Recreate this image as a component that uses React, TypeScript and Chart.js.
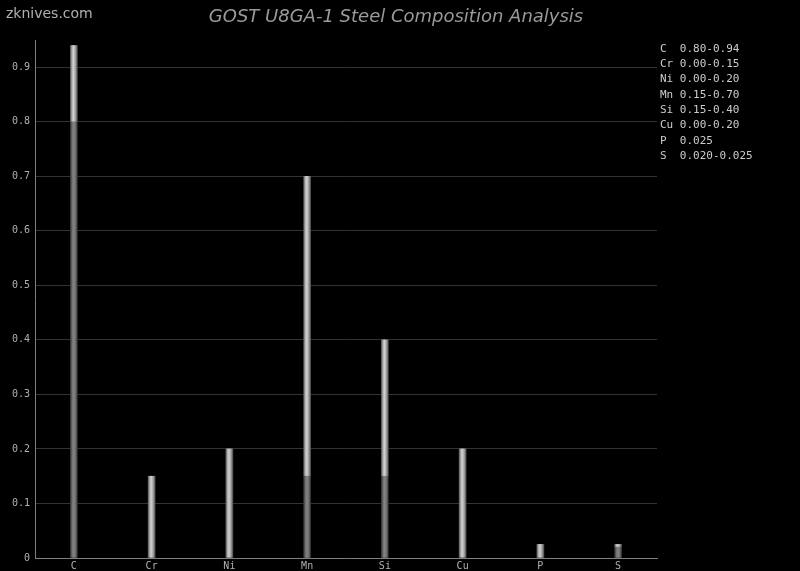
import React, { useEffect, useRef } from "react";
import { Chart, registerables } from "chart.js";

Chart.register(...registerables);

const elements = ["C", "Cr", "Ni", "Mn", "Si", "Cu", "P", "S"];
const minVals = [0.8, 0, 0, 0.15, 0.15, 0, 0, 0.02];
const maxVals = [0.94, 0.15, 0.2, 0.7, 0.4, 0.2, 0.025, 0.025];
const rangeText = ["0.80-0.94", "0.00-0.15", "0.00-0.20", "0.15-0.70", "0.15-0.40", "0.00-0.20", "0.025", "0.020-0.025"];
const yTicks = [0, 0.1, 0.2, 0.3, 0.4, 0.5, 0.6, 0.7, 0.8, 0.9];
const title = "GOST U8GA-1 Steel Composition Analysis";
const watermark = "zknives.com";

const BAR_W = 7;

function makeGradient(dark: boolean) {
  return (ctx: any) => {
    const chart = ctx.chart;
    const xs = chart.scales && chart.scales.x;
    if (!xs || !chart.chartArea) return dark ? "#707070" : "#b0b0b0";
    const cx = xs.getPixelForValue(ctx.dataIndex);
    const g = chart.ctx.createLinearGradient(cx - BAR_W / 2, 0, cx + BAR_W / 2, 0);
    if (dark) {
      g.addColorStop(0, "#383838");
      g.addColorStop(0.3, "#767676");
      g.addColorStop(0.5, "#858585");
      g.addColorStop(0.8, "#666666");
      g.addColorStop(1, "#333333");
    } else {
      g.addColorStop(0, "#5c5c5c");
      g.addColorStop(0.25, "#b4b4b4");
      g.addColorStop(0.45, "#d0d0d0");
      g.addColorStop(0.75, "#9c9c9c");
      g.addColorStop(1, "#505050");
    }
    return g;
  };
}

const overlayPlugin = {
  id: "overlay",
  afterDraw(chart: any) {
    const c = chart.ctx;
    c.save();
    c.fillStyle = "#b0b0b0";
    c.textBaseline = "middle";
    c.textAlign = "left";
    c.font = "14px 'DejaVu Sans'";
    c.fillText(watermark, 6, 14);
    c.textAlign = "center";
    c.font = "italic 18px 'DejaVu Sans'";
    c.fillStyle = "#9a9a9a";
    c.fillText(title, 396, 17);
    c.textAlign = "left";
    c.font = "11px 'DejaVu Sans Mono'";
    c.fillStyle = "#cccccc";
    elements.forEach((el, i) => {
      const name = (el + "   ").slice(0, 3);
      c.fillText(name + rangeText[i], 660, 49 + i * 15.3);
    });
    c.restore();
  },
};

export default function App() {
  const ref = useRef<HTMLCanvasElement>(null);
  useEffect(() => {
    if (!ref.current) return;
    const chart = new Chart(ref.current, {
      type: "bar",
      data: {
        labels: elements,
        datasets: [
          {
            label: "min",
            data: minVals,
            backgroundColor: makeGradient(true),
            barThickness: BAR_W,
            borderWidth: 0,
          },
          {
            label: "range",
            data: maxVals.map((m, i) => m - minVals[i]),
            backgroundColor: makeGradient(false),
            barThickness: BAR_W,
            borderWidth: 0,
          },
        ],
      },
      options: {
        animation: false,
        responsive: false,
        layout: { padding: { top: 40, right: 143, left: 0, bottom: 0 } },
        plugins: {
          legend: { display: false },
          title: { display: false },
          tooltip: { enabled: false },
        },
        scales: {
          x: {
            stacked: true,
            grid: { display: false, drawTicks: false },
            border: { display: true, color: "#808080", width: 1 },
            ticks: {
              color: "#b0b0b0",
              font: { family: "'DejaVu Sans Mono'", size: 10 },
              padding: 2,
              maxRotation: 0,
            },
            afterFit: (s: any) => {
              s.height = 13;
            },
          },
          y: {
            stacked: true,
            min: 0,
            max: 0.95,
            grid: { color: "#333333", drawTicks: false, lineWidth: 1 },
            border: { display: true, color: "#808080", width: 1 },
            ticks: {
              stepSize: 0.1,
              color: "#b0b0b0",
              font: { family: "'DejaVu Sans Mono'", size: 10 },
              padding: 5,
              callback: (v: any) => (Math.abs(v) < 1e-9 ? "0" : Number(v).toFixed(1)),
            },
            afterBuildTicks: (s: any) => {
              s.ticks = yTicks.map((v) => ({ value: v }));
            },
            afterFit: (s: any) => {
              s.width = 35;
            },
          },
        },
      },
      plugins: [overlayPlugin],
    } as any);
    return () => chart.destroy();
  }, []);
  return (
    <div style={{ position: "fixed", left: 0, top: 0, width: 800, height: 571, background: "#000" }}>
      <canvas ref={ref} width={800} height={571} style={{ display: "block", width: 800, height: 571 }} />
    </div>
  );
}
